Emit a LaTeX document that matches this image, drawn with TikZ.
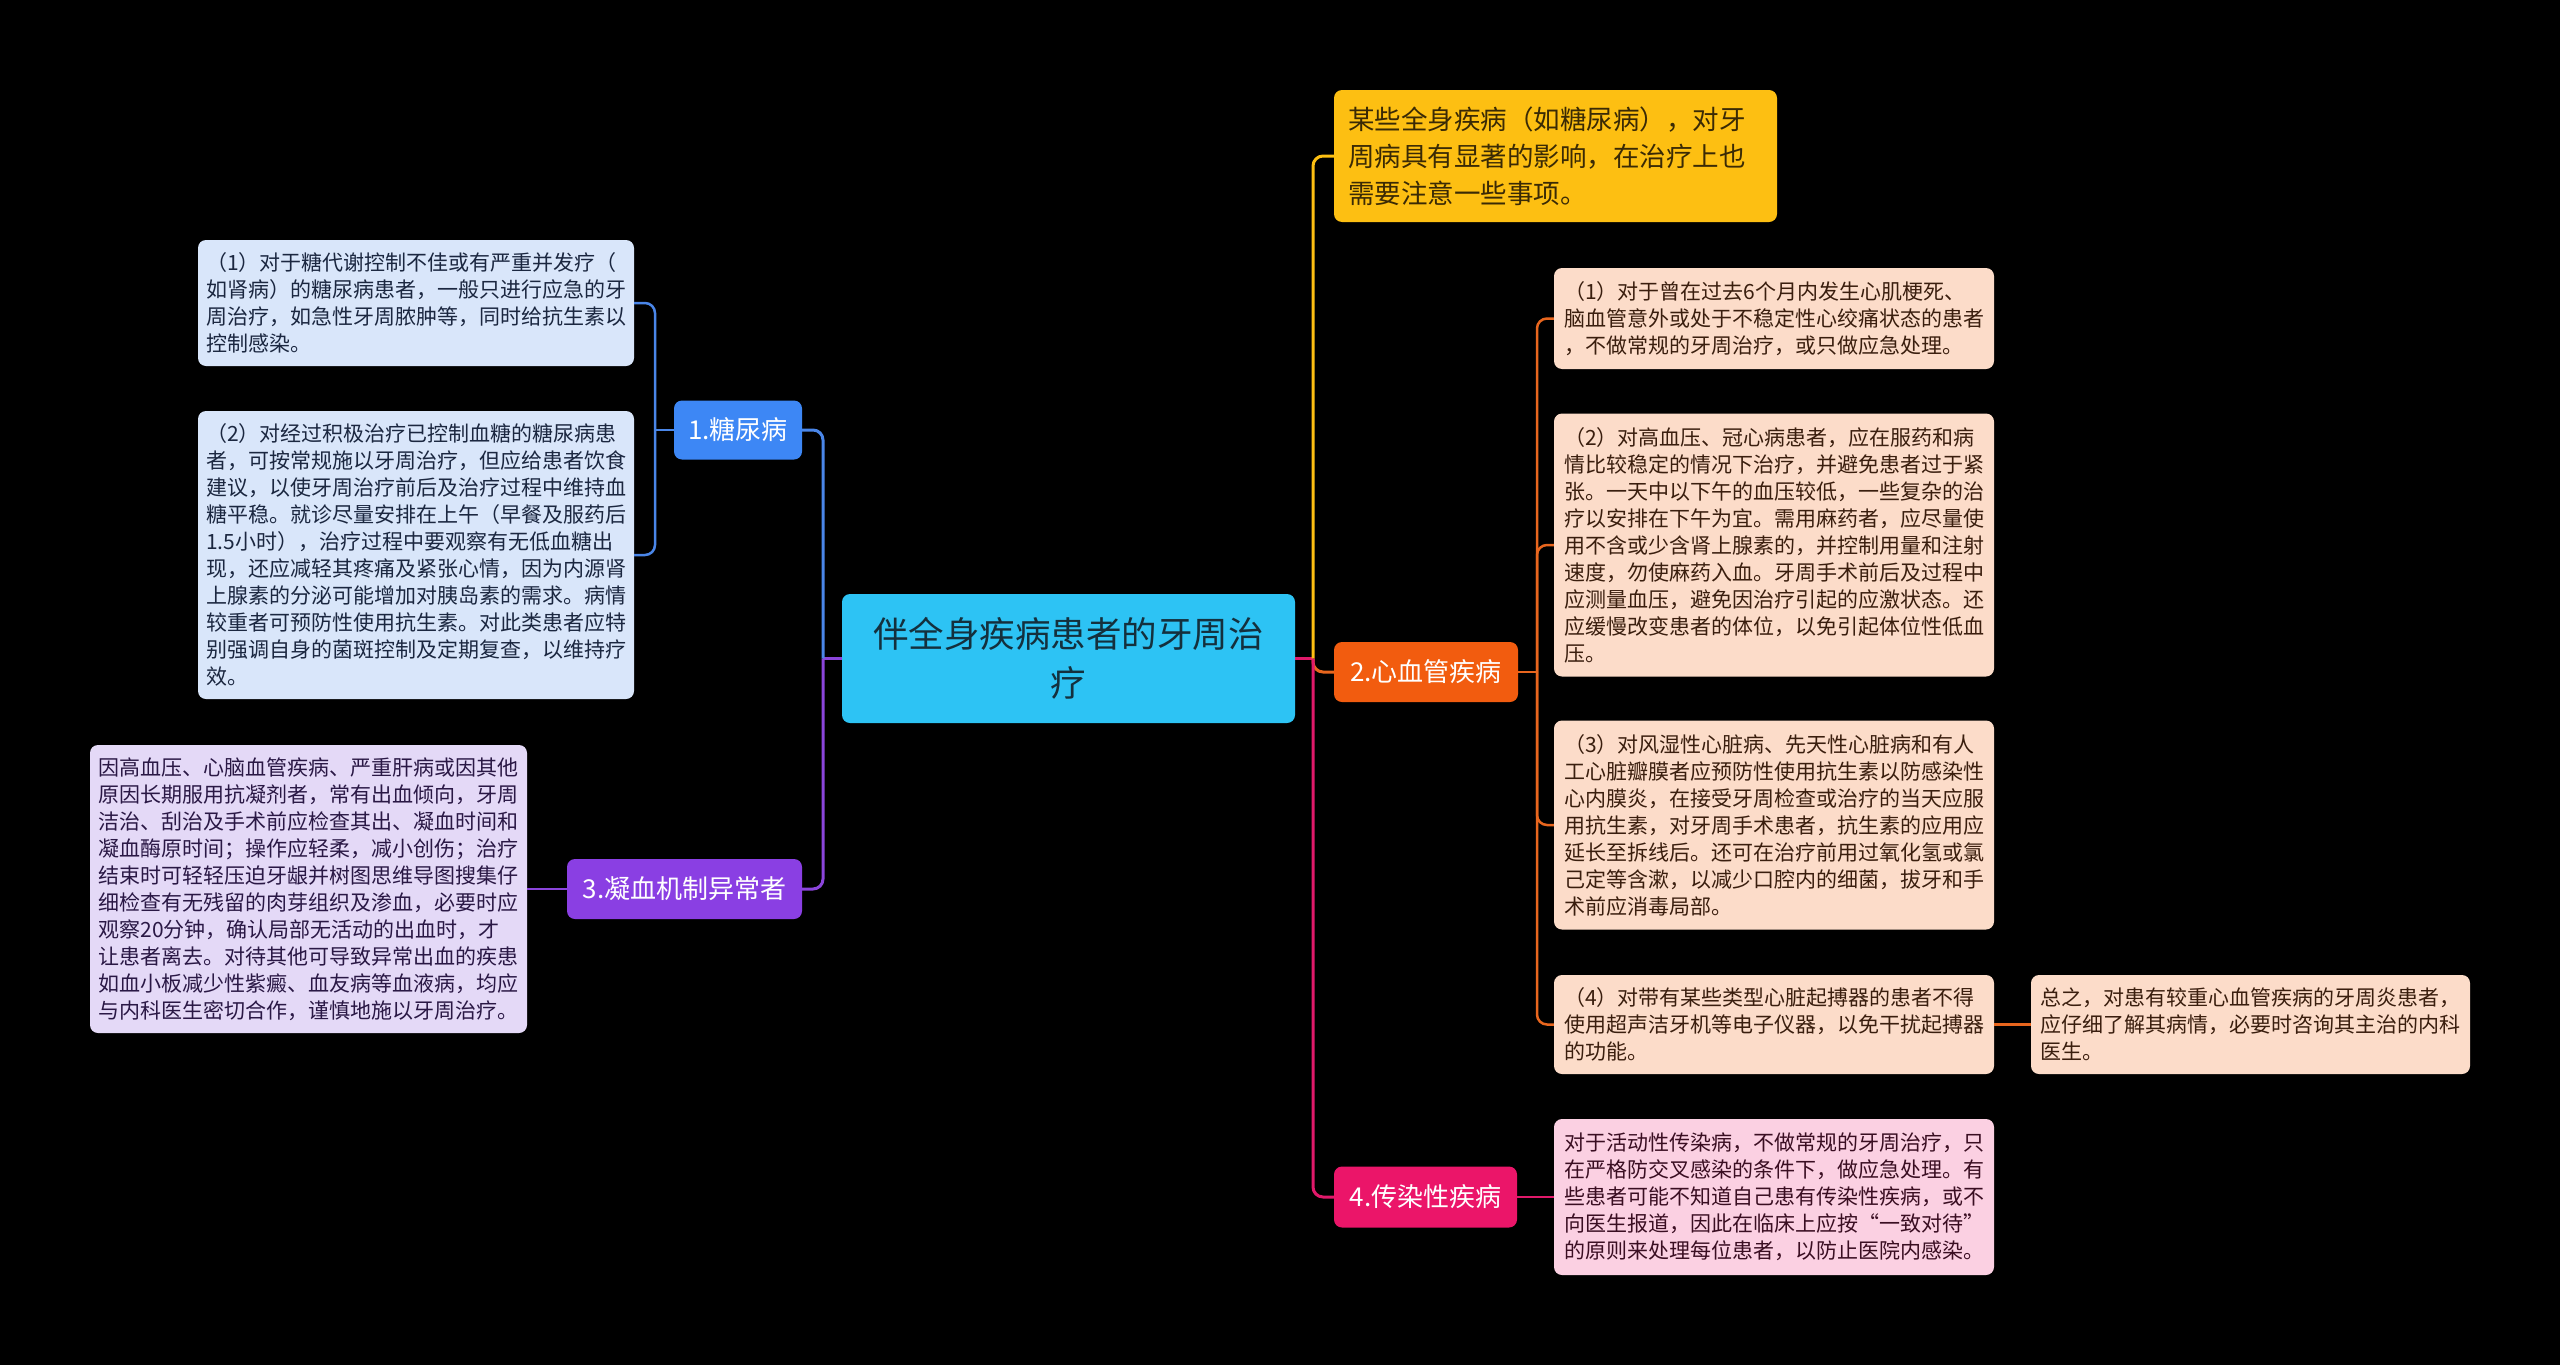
\documentclass[tikz,border=0pt]{standalone}
\usepackage{fontspec}
\setmainfont{Noto Sans CJK SC}
\definecolor{rootc}{HTML}{2DC3F4}
\definecolor{roottx}{HTML}{14303D}
\definecolor{bluec}{HTML}{3D87F5}
\definecolor{bluel}{HTML}{4A86E8}
\definecolor{bluef}{HTML}{D9E6FA}
\definecolor{bluet}{HTML}{1B2740}
\definecolor{purc}{HTML}{8A3FE3}
\definecolor{purl}{HTML}{8B45DB}
\definecolor{purf}{HTML}{E4D9F7}
\definecolor{purt}{HTML}{2A1845}
\definecolor{ylwc}{HTML}{FDBF12}
\definecolor{ylwt}{HTML}{3A2A05}
\definecolor{orgc}{HTML}{F25C0F}
\definecolor{orgl}{HTML}{E8661E}
\definecolor{orgf}{HTML}{FCDCC9}
\definecolor{orgt}{HTML}{3A1E0E}
\definecolor{magc}{HTML}{EB1569}
\definecolor{magl}{HTML}{E0196A}
\definecolor{magf}{HTML}{FBD0E2}
\definecolor{magt}{HTML}{3A0E22}
\tikzset{
  box/.style={rectangle, rounded corners=8pt, inner sep=0pt, anchor=center},
  leafbox/.style={box, align=left, font={\fontsize{21}{27}\selectfont}},
  branchbox/.style={box, align=center, text=white, font={\fontsize{26}{32}\selectfont}},
  mainline/.style={line width=3pt, rounded corners=10pt},
  subline/.style={line width=2.5pt, rounded corners=10pt},
}
\begin{document}
\begin{tikzpicture}[x=1pt,y=-1pt]
\fill[black] (0,0) rectangle (2560,1365);
\useasboundingbox (0,0) rectangle (2560,1365);

% root
\node[box, fill=rootc, text=roottx, align=center, minimum width=453pt, minimum height=129pt,
  font={\fontsize{35.5}{49}\selectfont}] (root) at (1068.5,658.5) {伴全身疾病患者的牙周治\\疗};

% branches
\node[branchbox, fill=bluec, minimum width=128pt, minimum height=59pt] (n1) at (738,430) {1.糖尿病};
\node[branchbox, fill=purc, minimum width=235pt, minimum height=60pt] (n3) at (684.5,889) {3.凝血机制异常者};
\node[branchbox, fill=orgc, minimum width=184pt, minimum height=60pt] (n2) at (1426,672) {2.心血管疾病};
\node[branchbox, fill=magc, minimum width=183pt, minimum height=61pt] (n4) at (1425.5,1197) {4.传染性疾病};

% yellow
\node[box, fill=ylwc, text=ylwt, align=left, text width=415pt, inner xsep=14pt,
  minimum height=132pt, font={\fontsize{26.5}{37}\selectfont}] (yel) at (1555.5,156)
  {某些全身疾病（如糖尿病），对牙\\周病具有显著的影响，在治疗上也\\需要注意一些事项。};

% left leaves
\node[leafbox, fill=bluef, text=bluet, minimum width=436pt, minimum height=126pt] (l1) at (416,303)
  {（1）对于糖代谢控制不佳或有严重并发疗（\\如肾病）的糖尿病患者，一般只进行应急的牙\\周治疗，如急性牙周脓肿等，同时给抗生素以\\控制感染。};
\node[leafbox, fill=bluef, text=bluet, minimum width=436pt, minimum height=288pt] (l2) at (416,555)
  {（2）对经过积极治疗已控制血糖的糖尿病患\\者，可按常规施以牙周治疗，但应给患者饮食\\建议，以使牙周治疗前后及治疗过程中维持血\\糖平稳。就诊尽量安排在上午（早餐及服药后\\1.5小时），治疗过程中要观察有无低血糖出\\现，还应减轻其疼痛及紧张心情，因为内源肾\\上腺素的分泌可能增加对胰岛素的需求。病情\\较重者可预防性使用抗生素。对此类患者应特\\别强调自身的菌斑控制及定期复查，以维持疗\\效。};
\node[leafbox, fill=purf, text=purt, minimum width=437pt, minimum height=288pt] (l3) at (308.5,889)
  {因高血压、心脑血管疾病、严重肝病或因其他\\原因长期服用抗凝剂者，常有出血倾向，牙周\\洁治、刮治及手术前应检查其出、凝血时间和\\凝血酶原时间；操作应轻柔，减小创伤；治疗\\结束时可轻轻压迫牙龈并树图思维导图搜集仔\\细检查有无残留的肉芽组织及渗血，必要时应\\观察20分钟，确认局部无活动的出血时，才\\让患者离去。对待其他可导致异常出血的疾患\\如血小板减少性紫癜、血友病等血液病，均应\\与内科医生密切合作，谨慎地施以牙周治疗。};

% right leaves
\node[leafbox, fill=orgf, text=orgt, minimum width=440pt, minimum height=101pt] (r1) at (1774,318.5)
  {（1）对于曾在过去6个月内发生心肌梗死、\\脑血管意外或处于不稳定性心绞痛状态的患者\\，不做常规的牙周治疗，或只做应急处理。};
\node[leafbox, fill=orgf, text=orgt, minimum width=440pt, minimum height=263pt] (r2) at (1774,545)
  {（2）对高血压、冠心病患者，应在服药和病\\情比较稳定的情况下治疗，并避免患者过于紧\\张。一天中以下午的血压较低，一些复杂的治\\疗以安排在下午为宜。需用麻药者，应尽量使\\用不含或少含肾上腺素的，并控制用量和注射\\速度，勿使麻药入血。牙周手术前后及过程中\\应测量血压，避免因治疗引起的应激状态。还\\应缓慢改变患者的体位，以免引起体位性低血\\压。};
\node[leafbox, fill=orgf, text=orgt, minimum width=440pt, minimum height=209pt] (r3) at (1774,825)
  {（3）对风湿性心脏病、先天性心脏病和有人\\工心脏瓣膜者应预防性使用抗生素以防感染性\\心内膜炎，在接受牙周检查或治疗的当天应服\\用抗生素，对牙周手术患者，抗生素的应用应\\延长至拆线后。还可在治疗前用过氧化氢或氯\\己定等含漱，以减少口腔内的细菌，拔牙和手\\术前应消毒局部。};
\node[leafbox, fill=orgf, text=orgt, minimum width=440pt, minimum height=99pt] (r4) at (1774,1024.5)
  {（4）对带有某些类型心脏起搏器的患者不得\\使用超声洁牙机等电子仪器，以免干扰起搏器\\的功能。};
\node[leafbox, fill=orgf, text=orgt, minimum width=439pt, minimum height=99pt] (sum) at (2250.5,1024.5)
  {总之，对患有较重心血管疾病的牙周炎患者，\\应仔细了解其病情，必要时咨询其主治的内科\\医生。};
\node[leafbox, fill=magf, text=magt, minimum width=440pt, minimum height=156pt] (pk) at (1774,1197)
  {对于活动性传染病，不做常规的牙周治疗，只\\在严格防交叉感染的条件下，做应急处理。有\\些患者可能不知道自己患有传染性疾病，或不\\向医生报道，因此在临床上应按“一致对待”\\的原则来处理每位患者，以防止医院内感染。};

% junction coordinates
\coordinate (jr) at (1313,658.5);
\coordinate (jl) at (823,658.5);
\coordinate (j1) at (655,430);
\coordinate (j2) at (1537,672);

% root -> right branches
\draw[mainline, magl] (root.east) -- (jr);
\draw[mainline, ylwc] (jr) |- (yel.west);
\draw[mainline, orgl] (jr) |- (n2.west);
\draw[mainline, magl] (jr) |- (n4.west);

% root -> left branches
\draw[mainline, purl] (root.west) -- (jl);
\draw[mainline, bluel] (jl) |- (n1.east);
\draw[mainline, purl] (jl) |- (n3.east);

% 1 -> leaves
\draw[subline, bluel] (n1.west) -- (j1);
\draw[subline, bluel] (j1) |- (l1.east);
\draw[subline, bluel] (j1) |- (l2.east);

% 3 -> leaf
\draw[subline, purl] (n3.west) -- (l3.east);

% 2 -> leaves
\draw[subline, orgl] (n2.east) -- (j2);
\draw[subline, orgl] (j2) |- (r1.west);
\draw[subline, orgl] (j2) |- (r2.west);
\draw[subline, orgl] (j2) |- (r3.west);
\draw[subline, orgl] (j2) |- (r4.west);
\draw[subline, orgl] (r4.east) -- (sum.west);

% 4 -> leaf
\draw[subline, magl] (n4.east) -- (pk.west);
\end{tikzpicture}
\end{document}
